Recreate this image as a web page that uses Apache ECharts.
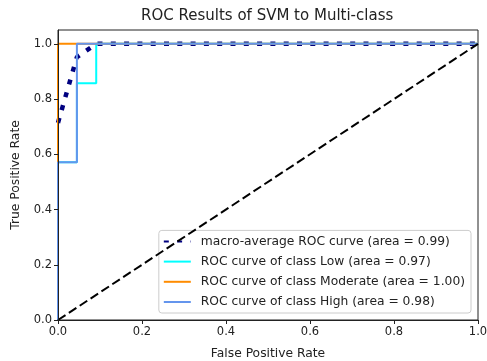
<!DOCTYPE html>
<html><head><meta charset="utf-8">
<script src="https://cdn.jsdelivr.net/npm/echarts@6/dist/echarts.min.js"></script>
<style>html,body{margin:0;padding:0;background:#fff}#c{width:487px;height:361px}</style>
</head><body><div id="c"></div>
<script>
const title = "ROC Results of SVM to Multi-class";
const xTicks = [0, 0.2, 0.4, 0.6, 0.8, 1.0];
const yTicks = [0, 0.2, 0.4, 0.6, 0.8, 1.0];
const macroCurve = [[0, 0.714], [0.045, 0.952], [0.091, 1], [1, 1]];
const lowCurve = [[0, 0], [0, 0.571], [0.045, 0.571], [0.045, 0.857], [0.091, 0.857], [0.091, 1], [1, 1]];
const moderateCurve = [[0, 0], [0, 1], [1, 1]];
const highCurve = [[0, 0], [0, 0.571], [0.045, 0.571], [0.045, 1], [1, 1]];
const chanceLine = [[0, 0], [1, 1]];
const names = [
  "macro-average ROC curve (area = 0.99)",
  "ROC curve of class Low (area = 0.97)",
  "ROC curve of class Moderate (area = 1.00)",
  "ROC curve of class High (area = 0.98)"
];
const font = "DejaVu Sans";
const chart = echarts.init(document.getElementById('c'));
function ln(name, data, color, width, type, z) {
  return {name, type: 'line', data, showSymbol: false, symbol: 'none', clip: true, z,
    lineStyle: {color, width, type, cap: 'butt'}, itemStyle: {color}, animation: false};
}
chart.setOption({
  animation: false,
  title: {text: title, left: 141, top: 9, padding: 0, textStyle: {fontFamily: font, fontSize: 15, fontWeight: 'normal', color: '#222'}},
  grid: {left: 58, right: 9, top: 30, bottom: 41, show: true, borderColor: '#222', borderWidth: 1, containLabel: false, outerBoundsMode: 'none'},
  xAxis: {type: 'value', min: 0, max: 1, interval: 0.2, name: 'False Positive Rate', nameLocation: 'middle', nameGap: 28, z: 10,
    nameTextStyle: {fontFamily: font, fontSize: 12.3, color: '#222'},
    axisLine: {show: true, lineStyle: {color: '#222'}}, axisTick: {show: true, length: 4, lineStyle: {color: '#222'}},
    axisLabel: {fontFamily: font, fontSize: 11.5, color: '#222', margin: 6, formatter: v => xTicks.includes(+v.toFixed(2)) ? v.toFixed(1) : ''},
    splitLine: {show: false}},
  yAxis: {type: 'value', min: 0, max: 1.05, interval: 0.2, name: 'True Positive Rate', nameLocation: 'middle', nameGap: 36, z: 10,
    nameTextStyle: {fontFamily: font, fontSize: 12.3, color: '#222'},
    axisLine: {show: true, lineStyle: {color: '#222'}}, axisTick: {show: true, length: 4, lineStyle: {color: '#222'}},
    axisLabel: {fontFamily: font, fontSize: 11.5, color: '#222', margin: 6, showMaxLabel: false, formatter: v => yTicks.includes(+v.toFixed(2)) ? v.toFixed(1) : ''},
    splitLine: {show: false}},
  legend: {orient: 'vertical', right: 16, bottom: 48, itemWidth: 27, itemHeight: 14, itemGap: 6.2,
    padding: [4, 6, 4, 4], backgroundColor: 'rgba(255,255,255,0.8)', borderColor: '#ccc', borderWidth: 1, borderRadius: 3,
    itemStyle: {opacity: 0},
    textStyle: {fontFamily: font, fontSize: 12.3, lineHeight: 14, color: '#222', padding: [0, 0, 0, 5]},
    data: names},
  series: [
    ln(names[0], macroCurve, '#000080', 4.5, [5, 8.3], 2),
    ln(names[1], lowCurve, '#00ffff', 2, 'solid', 3),
    ln(names[2], moderateCurve, '#ff8c00', 2, 'solid', 4),
    ln(names[3], highCurve, '#6495ed', 2, 'solid', 5),
    ln('chance', chanceLine, '#000', 2, [9, 4], 6)
  ]
});
</script></body></html>
